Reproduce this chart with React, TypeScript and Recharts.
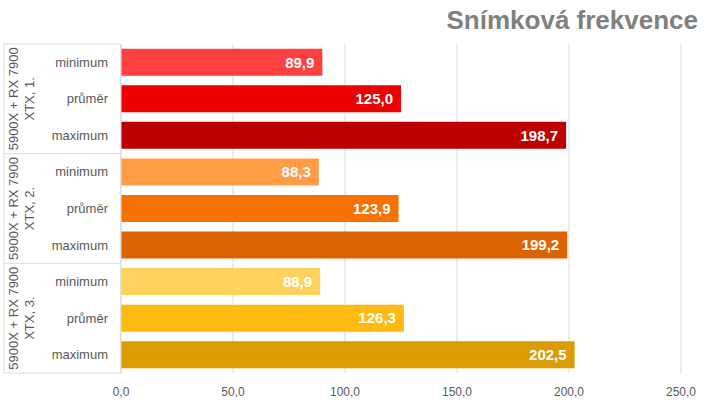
import React from "react";
import { BarChart, Bar, XAxis, YAxis, CartesianGrid, Cell, LabelList } from "recharts";

const categories = ["minimum", "průměr", "maximum"];
const groupLines = [
  ["5900X + RX 7900", "XTX, 1."],
  ["5900X + RX 7900", "XTX, 2."],
  ["5900X + RX 7900", "XTX, 3."],
];
const values1 = [89.9, 125.0, 198.7];
const values2 = [88.3, 123.9, 199.2];
const values3 = [88.9, 126.3, 202.5];
const colors1 = ["#FF4040", "#EC0000", "#BC0000"];
const colors2 = ["#FF9C45", "#F77200", "#DC6400"];
const colors3 = ["#FFD25E", "#FFBA12", "#DB9C00"];
const xTicks = [0, 50, 100, 150, 200, 250];

const groupValues = [values1, values2, values3];
const groupColors = [colors1, colors2, colors3];

const data = groupValues.flatMap((vals, g) =>
  vals.map((v, i) => ({
    key: `${g}-${i}`,
    name: categories[i],
    group: g,
    value: v,
    color: groupColors[g][i],
  }))
);

const fmt = (v: number) => v.toFixed(1).replace(".", ",");

const W = 720;
const H = 405;
const TOP = 44;
const BOTTOM_AXIS = 32;
const BAND = (H - TOP - BOTTOM_AXIS) / data.length;
const BOX_LEFT = 4;
const AXIS_W = 121;
const GRID = "#d9d9d9";
const FONT = "Liberation Sans, Arial, sans-serif";

const YTick = (props: any) => {
  const { y, payload, index } = props;
  const off = payload && payload.offset ? payload.offset : BAND / 2;
  const row = data[index];
  const pos = index % 3;
  return (
    <g>
      <text
        x={108}
        y={y}
        textAnchor="end"
        dominantBaseline="central"
        fontFamily={FONT}
        fontSize={13}
        fill="#595959"
      >
        {payload.value}
      </text>
      <line x1={BOX_LEFT} x2={BOX_LEFT} y1={y - off} y2={y + off} stroke={GRID} />
      {pos === 0 && <line x1={BOX_LEFT} x2={AXIS_W} y1={y - off} y2={y - off} stroke={GRID} />}
      {index === data.length - 1 && (
        <line x1={BOX_LEFT} x2={AXIS_W} y1={y + off} y2={y + off} stroke={GRID} />
      )}
      {pos === 1 && row && (
        <text
          x={22}
          y={y}
          transform={`rotate(-90, 22, ${y})`}
          textAnchor="middle"
          fontFamily={FONT}
          fontSize={13}
          fill="#595959"
        >
          <tspan x={22} dy="-0.3em">{groupLines[row.group][0]}</tspan>
          <tspan x={22} dy="1.25em">{groupLines[row.group][1]}</tspan>
        </text>
      )}
    </g>
  );
};

export default function App() {
  return (
    <div style={{ position: "absolute", left: 0, top: 0, width: W, height: H, background: "#fff" }}>
      <BarChart
        width={W}
        height={H}
        data={data}
        layout="vertical"
        margin={{ top: TOP, right: 39, bottom: 0, left: 0 }}
        barCategoryGap="13%"
      >
        <text
          x={698}
          y={29}
          textAnchor="end"
          fontFamily={FONT}
          fontWeight="bold"
          fontSize={26}
          fill="#808080"
        >
          Snímková frekvence
        </text>
        <CartesianGrid horizontal={false} stroke={GRID} />
        <XAxis
          type="number"
          domain={[0, 250]}
          ticks={xTicks}
          height={BOTTOM_AXIS}
          axisLine={false}
          tickLine={false}
          tickMargin={8}
          tickFormatter={fmt}
          tick={{ fontFamily: FONT, fontSize: 12, fill: "#595959" }}
        />
        <YAxis
          type="category"
          dataKey="name"
          width={AXIS_W}
          axisLine={{ stroke: GRID }}
          tickLine={false}
          interval={0}
          allowDuplicatedCategory={true}
          tick={<YTick />}
        />
        <Bar dataKey="value" isAnimationActive={false}>
          {data.map((d) => (
            <Cell key={d.key} fill={d.color} />
          ))}
          <LabelList
            dataKey="value"
            position="insideRight"
            offset={8}
            formatter={(v: any) => fmt(Number(v))}
            fill="#ffffff"
            fontFamily={FONT}
            fontWeight="bold"
            fontSize={15}
          />
        </Bar>
      </BarChart>
    </div>
  );
}
